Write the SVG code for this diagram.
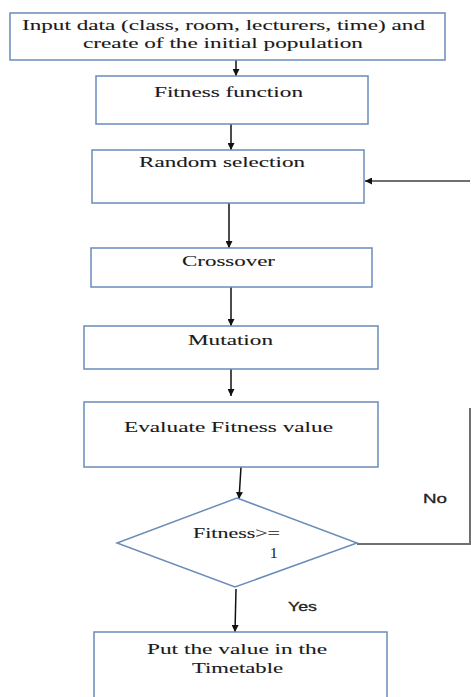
<svg xmlns="http://www.w3.org/2000/svg" width="471" height="697" viewBox="0 0 471 697">
<style>
.box{fill:#fff;stroke:#6a8cbb;stroke-width:1.5}
.t{font-family:"Liberation Serif","Times New Roman",serif;font-size:15px;fill:#1a1a1a;stroke:#1a1a1a;stroke-width:0.1}
.s{font-family:"Liberation Sans",Arial,sans-serif;font-size:13px;fill:#222;stroke:#222;stroke-width:0.3}
.c{fill:none;stroke:#111;stroke-width:1.5}
.g{fill:none;stroke:#6f6f6f;stroke-width:2}
</style>
<defs>
<marker id="ah2" viewBox="0 0 10 10" refX="10" refY="5" markerWidth="7" markerHeight="7" markerUnits="userSpaceOnUse" orient="auto">
<path d="M0,0 L10,5 L0,10 z" fill="#111"/>
</marker>
</defs>
<rect width="471" height="697" fill="#fff"/>
<g id="connectors">
<line class="c" x1="236" y1="60" x2="236" y2="76" marker-end="url(#ah2)"/>
<line class="c" x1="231" y1="124" x2="231" y2="150" marker-end="url(#ah2)"/>
<line class="c" x1="229" y1="203" x2="229" y2="248" marker-end="url(#ah2)"/>
<line class="c" x1="231" y1="287" x2="231" y2="326" marker-end="url(#ah2)"/>
<line class="c" x1="231" y1="367" x2="231" y2="396" marker-end="url(#ah2)"/>
<line class="c" x1="241" y1="467" x2="239" y2="499" marker-end="url(#ah2)"/>
<line class="c" x1="236" y1="589" x2="235" y2="632" marker-end="url(#ah2)"/>
<polyline class="g" points="357,544 470,544 470,408"/>
<line class="g" x1="470" y1="181" x2="365" y2="181" marker-end="url(#ah2)"/>
<text class="s" x="423" y="503" textLength="24" lengthAdjust="spacingAndGlyphs">No</text>
<text class="s" x="288" y="611" textLength="29" lengthAdjust="spacingAndGlyphs">Yes</text>
</g>
<g id="input">
<rect class="box" x="10" y="13" width="435" height="47"/>
<text class="t" x="22" y="30" textLength="403" lengthAdjust="spacingAndGlyphs">Input data (class, room, lecturers, time) and</text>
<text class="t" x="83" y="48" textLength="280" lengthAdjust="spacingAndGlyphs">create of the initial population</text>
</g>
<g id="fitness">
<rect class="box" x="96" y="76" width="272" height="48"/>
<text class="t" x="154" y="97" textLength="149" lengthAdjust="spacingAndGlyphs">Fitness function</text>
</g>
<g id="selection">
<rect class="box" x="92" y="150" width="272" height="53"/>
<text class="t" x="139" y="167" textLength="166" lengthAdjust="spacingAndGlyphs">Random selection</text>
</g>
<g id="crossover">
<rect class="box" x="91" y="248" width="281" height="39"/>
<text class="t" x="182" y="266" textLength="93" lengthAdjust="spacingAndGlyphs">Crossover</text>
</g>
<g id="mutation">
<rect class="box" x="84" y="326" width="294" height="43"/>
<text class="t" x="188" y="345" textLength="85" lengthAdjust="spacingAndGlyphs">Mutation</text>
</g>
<g id="evaluate">
<rect class="box" x="84" y="402" width="294" height="65"/>
<text class="t" x="124" y="432" textLength="209" lengthAdjust="spacingAndGlyphs">Evaluate Fitness value</text>
</g>
<g id="decision">
<polygon class="box" points="237,498 357,543 235,587 117,543"/>
<text class="t" x="193" y="538" textLength="87" lengthAdjust="spacingAndGlyphs">Fitness&gt;=</text>
<text class="t" x="270" y="558">1</text>
</g>
<g id="output">
<rect class="box" x="94" y="632" width="293" height="75"/>
<text class="t" x="147" y="654" textLength="180" lengthAdjust="spacingAndGlyphs">Put the value in the</text>
<text class="t" x="192" y="673" textLength="91" lengthAdjust="spacingAndGlyphs">Timetable</text>
</g>
</svg>
